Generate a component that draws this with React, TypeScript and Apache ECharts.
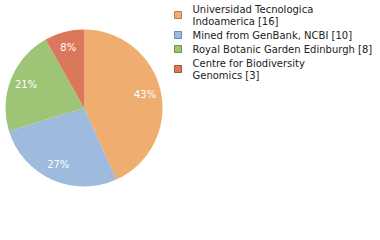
import React, { useEffect, useRef } from "react";
import * as echarts from "echarts";

const categories = [
  "Universidad Tecnologica\nIndoamerica [16]",
  "Mined from GenBank, NCBI [10]",
  "Royal Botanic Garden Edinburgh [8]",
  "Centre for Biodiversity\nGenomics [3]",
];
const values = [16, 10, 8, 3];
const colors = ["#EFAD6F", "#9EBADF", "#9DC575", "#DB775A"];
const borderColors = ["#B08050", "#7088A8", "#709050", "#A05540"];

export default function App() {
  const ref = useRef<HTMLDivElement>(null);
  useEffect(() => {
    if (!ref.current) return;
    const chart = echarts.init(ref.current, null, { renderer: "svg" });
    const data = categories.map((name, i) => ({
      name,
      value: values[i],
      itemStyle: { color: colors[i] },
    }));
    chart.setOption({
      animation: false,
      textStyle: { fontFamily: "DejaVu Sans" },
      legend: {
        orient: "vertical",
        left: 169,
        top: -2,
        itemWidth: 7,
        itemHeight: 7,
        itemGap: 2,
        icon: "rect",
        selectedMode: false,
        data: categories.map((name, i) => ({
          name,
          itemStyle: { color: colors[i], borderColor: borderColors[i], borderWidth: 1 },
        })),
        textStyle: {
          fontFamily: "DejaVu Sans",
          fontSize: 10,
          lineHeight: 12,
          color: "#222",
          padding: [0, 0, 0, 6],
        },
      },
      series: [
        {
          type: "pie",
          center: [84, 108],
          radius: [0, 78.5],
          startAngle: 90,
          clockwise: true,
          silent: true,
          label: { show: false },
          labelLine: { show: false },
          itemStyle: { borderWidth: 0 },
          data,
        },
        {
          type: "pie",
          center: [84, 108],
          radius: [0, 119],
          startAngle: 90,
          clockwise: true,
          silent: true,
          legendHoverLink: false,
          itemStyle: { color: "transparent", borderWidth: 0 },
          label: {
            show: true,
            position: "inside",
            color: "#fff",
            fontFamily: "DejaVu Sans",
            fontSize: 10,
            fontWeight: "normal",
            formatter: (p: any) => Math.floor(p.percent) + "%",
          },
          labelLine: { show: false },
          data: categories.map((name, i) => ({ name, value: values[i] })),
        },
      ],
    });
    return () => chart.dispose();
  }, []);
  return (
    <div
      ref={ref}
      style={{ position: "fixed", left: 0, top: 0, width: 380, height: 240, background: "#fff" }}
    />
  );
}
